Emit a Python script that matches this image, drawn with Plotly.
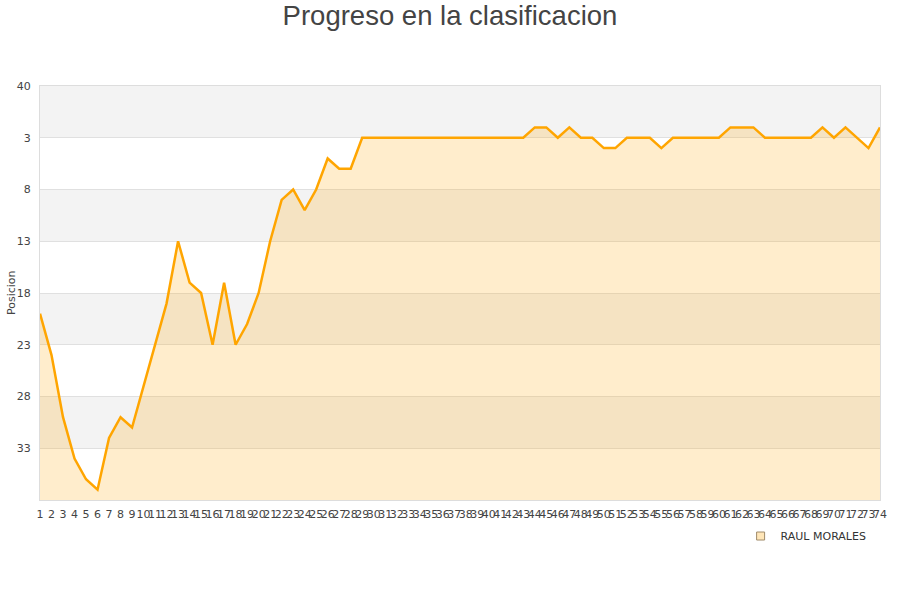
import plotly.graph_objects as go

jornadas = list(range(1, 75))
posicion = [20, 24, 30, 34, 36, 37, 32, 30, 31, 27,
            23, 19, 13, 17, 18, 23, 17, 23, 21, 18,
            13, 9, 8, 10, 8, 5, 6, 6, 3,
            3, 3, 3, 3, 3, 3, 3, 3, 3, 3, 3, 3, 3, 3,
            2, 2, 3, 2, 3, 3, 4, 4, 3, 3, 3, 4, 3, 3, 3, 3, 3,
            2, 2, 2, 3, 3, 3, 3, 3, 2, 3, 2, 3, 4, 2]
ytick_vals = [-2, 3, 8, 13, 18, 23, 28, 33]
ytick_text = ["40", "3", "8", "13", "18", "23", "28", "33"]
y_top, y_bottom = -2, 38
bands = [(-2, 3), (8, 13), (18, 23), (28, 33)]

fig = go.Figure()
fig.add_trace(go.Scatter(x=jornadas, y=[y_bottom] * len(jornadas), mode="lines",
                         line=dict(width=0, color="rgba(0,0,0,0)"),
                         hoverinfo="skip", showlegend=False))
fig.add_trace(go.Scatter(x=jornadas, y=posicion, mode="lines", name="RAUL MORALES",
                         line=dict(color="#ffa500", width=2.5),
                         fill="tonexty", fillcolor="rgba(255,165,0,0.2)",
                         showlegend=False))
fig.add_trace(go.Scatter(x=[None], y=[None], mode="markers", name="RAUL MORALES",
                         marker=dict(symbol="square", size=8, color="#ffe6b8",
                                     line=dict(color="#a08c6a", width=1)),
                         showlegend=True))

shapes = []
for a, b in bands:
    shapes.append(dict(type="rect", xref="paper", yref="y", x0=0, x1=1, y0=a, y1=b,
                       fillcolor="#f3f3f3", line=dict(width=0), layer="below"))

fig.update_layout(
    width=900, height=600,
    paper_bgcolor="white", plot_bgcolor="white",
    margin=dict(l=40, r=20, t=86, b=100, autoexpand=False),
    title=dict(text="Progreso en la clasificacion", x=0.5, xanchor="center",
               xref="container", yref="container", y=0.99, yanchor="top",
               font=dict(family="Liberation Sans, Arial, sans-serif", size=27.5, color="#444444")),
    shapes=shapes,
    showlegend=True,
    legend=dict(orientation="h", x=0.99, xanchor="right", y=-0.087, yanchor="middle",
                font=dict(family="DejaVu Sans, sans-serif", size=11, color="#333333"),
                bgcolor="rgba(0,0,0,0)"),
    font=dict(family="DejaVu Sans, sans-serif", size=11, color="#444444"),
    annotations=[dict(text="Posicion", xref="paper", yref="paper", x=-0.0345, y=0.5,
                      xanchor="center", yanchor="middle", textangle=-90, showarrow=False,
                      font=dict(size=11, color="#444444"))],
)
fig.update_xaxes(range=[1, 74], tickmode="array", tickvals=jornadas,
                 ticktext=[str(j) for j in jornadas], tickangle=0, automargin=False,
                 tickfont=dict(size=11, color="#444444"), ticklabelstandoff=4,
                 showgrid=False, zeroline=False, showline=True, linecolor="#dddddd",
                 mirror=True, ticks="", ticklen=0)
fig.update_yaxes(range=[y_bottom, y_top], tickmode="array", tickvals=ytick_vals,
                 ticktext=ytick_text, tickfont=dict(size=11, color="#444444"),
                 automargin=False, ticklabelstandoff=6,
                 showgrid=True, gridcolor="#e0e0e0", gridwidth=1, zeroline=False,
                 showline=True, linecolor="#dddddd", mirror=True)

fig.write_html("out.html", config={"displayModeBar": False},
               post_script="document.body.style.margin='0px';")
